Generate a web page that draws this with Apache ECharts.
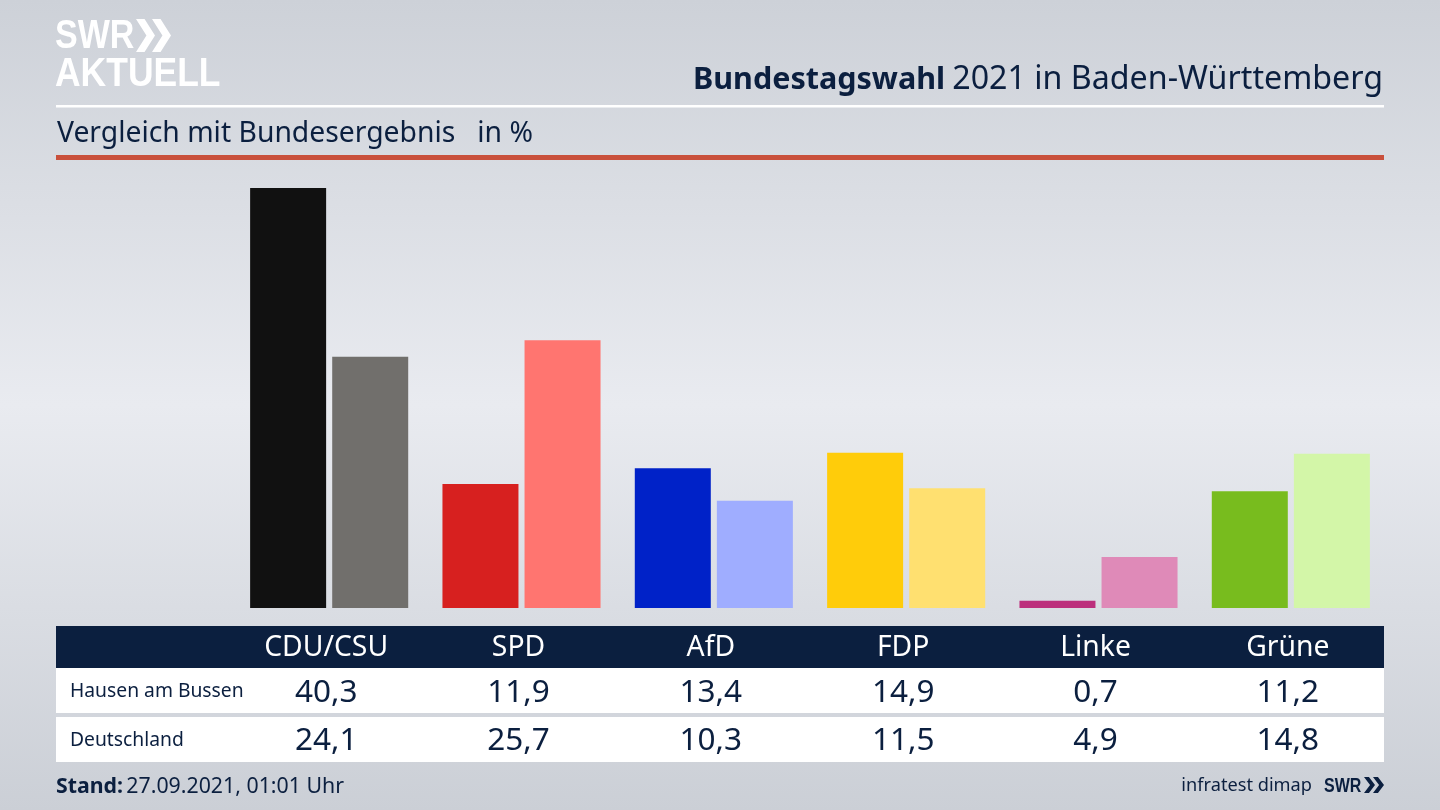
<!DOCTYPE html>
<html><head><meta charset="utf-8">
<style>html,body{margin:0;padding:0;width:1440px;height:810px;overflow:hidden}#c{width:1440px;height:810px}</style>
<script src="https://cdn.jsdelivr.net/npm/echarts@6/dist/echarts.min.js"></script>
</head><body><div id="c"></div>
<script>
const categories = ['CDU/CSU','SPD','AfD','FDP','Linke','Grüne'];
const hausen = [40.3,11.9,13.4,14.9,0.7,11.2];
const deutschland = [24.1,25.7,10.3,11.5,4.9,14.8];
const rowNames = ['Hausen am Bussen','Deutschland'];
const hausenColors = ['#111111','#d7201f','#0022c8','#ffcc0a','#bc2f7c','#78bc1e'];
const deutschlandColors = ['#716f6c','#ff7570','#9fadff','#ffe070','#df8ab8','#d3f6a8'];
const FONT = '"Noto Sans", sans-serif';
const NAVY = '#0b1f3f';
const fmt = v => v.toFixed(1).replace('.', ',');
const chart = echarts.init(document.getElementById('c'));
const option = {
  animation:false,
  backgroundColor:{type:'linear',x:0,y:0,x2:0,y2:1,colorStops:[
    {offset:0,color:'#cdd1d8'},{offset:0.5,color:'#e9ebf0'},{offset:1,color:'#cbcfd6'}]},
  grid:{left:233,right:53,top:170.3,height:437.7},
  xAxis:{type:'category',data:categories,axisLine:{show:false},axisTick:{show:false},axisLabel:{show:false}},
  yAxis:{type:'value',min:0,max:42,show:false,splitLine:{show:false}},
  series:[
    {type:'bar',name:rowNames[0],data:hausen.map((v,i)=>({value:v,itemStyle:{color:hausenColors[i]}})),barWidth:76,barGap:'8%'},
    {type:'bar',name:rowNames[1],data:deutschland.map((v,i)=>({value:v,itemStyle:{color:deutschlandColors[i]}})),barWidth:76}
  ]
};
chart.setOption(option);
const g = [];
const txt = (x,y,text,size,fill,align,weight) => g.push({type:'text',x,y,silent:true,style:{text,fontFamily:FONT,fontSize:size,fill,align:align||'left',verticalAlign:'middle',fontWeight:weight||'normal'}});
const rect = (x,y,w,h,fill) => g.push({type:'rect',silent:true,shape:{x,y,width:w,height:h},style:{fill}});
const chev = (x,y,w,h,fill) => g.push({type:'polygon',silent:true,shape:{points:[[x,y],[x+w*0.45,y],[x+w,y+h/2],[x+w*0.45,y+h],[x,y+h],[x+w*0.55,y+h/2]]},style:{fill}});
const logoText = (x,y,text,size,fill,sx) => g.push({type:'text',x,y,scaleX:sx,silent:true,style:{text,fontFamily:'"Liberation Sans"',fontSize:size,fontWeight:'bold',fill,verticalAlign:'middle'}});
// logo
logoText(55,37,'SWR',41,'#fff',0.83);
chev(136,19,19,33,'#fff'); chev(152,19,19,33,'#fff');
logoText(55,75,'AKTUELL',41,'#fff',0.865);
// header
txt(693,80,'Bundestagswahl',30.5,NAVY,'left','bold');
txt(1383,80,'2021 in Baden-Württemberg',32.2,NAVY,'right');
rect(56,105,1328,2.5,'#ffffff');
txt(57,134,'Vergleich mit Bundesergebnis   in %',28.3,NAVY);
rect(56,155,1328,5,'#c9503c');
// table
rect(56,626,1328,42,NAVY);
rect(56,668,1328,45,'#ffffff');
rect(56,717,1328,45,'#ffffff');
txt(70,692,rowNames[0],19.3,NAVY);
txt(70,740.5,rowNames[1],19.3,NAVY);
categories.forEach((c,i)=>{
  const x = chart.convertToPixel({xAxisIndex:0},c) - 3;
  txt(x,648,c,28.3,'#ffffff','center');
  txt(x,693,fmt(hausen[i]),31.5,NAVY,'center');
  txt(x,741.5,fmt(deutschland[i]),31.5,NAVY,'center');
});
// footer
g.push({type:'text',x:56,y:787,silent:true,style:{text:'{b|Stand:} {r|27.09.2021, 01:01 Uhr}',verticalAlign:'middle',
  rich:{b:{fontFamily:FONT,fontSize:21.3,fontWeight:'bold',fill:NAVY},r:{fontFamily:FONT,fontSize:21.3,fill:NAVY}}}});
txt(1312,786,'infratest dimap',18.2,NAVY,'right');
logoText(1324,786,'SWR',20,NAVY,0.8);
chev(1364,777,11,16,NAVY); chev(1373,777,11,16,NAVY);
chart.setOption({graphic:{elements:g}});
</script></body></html>
